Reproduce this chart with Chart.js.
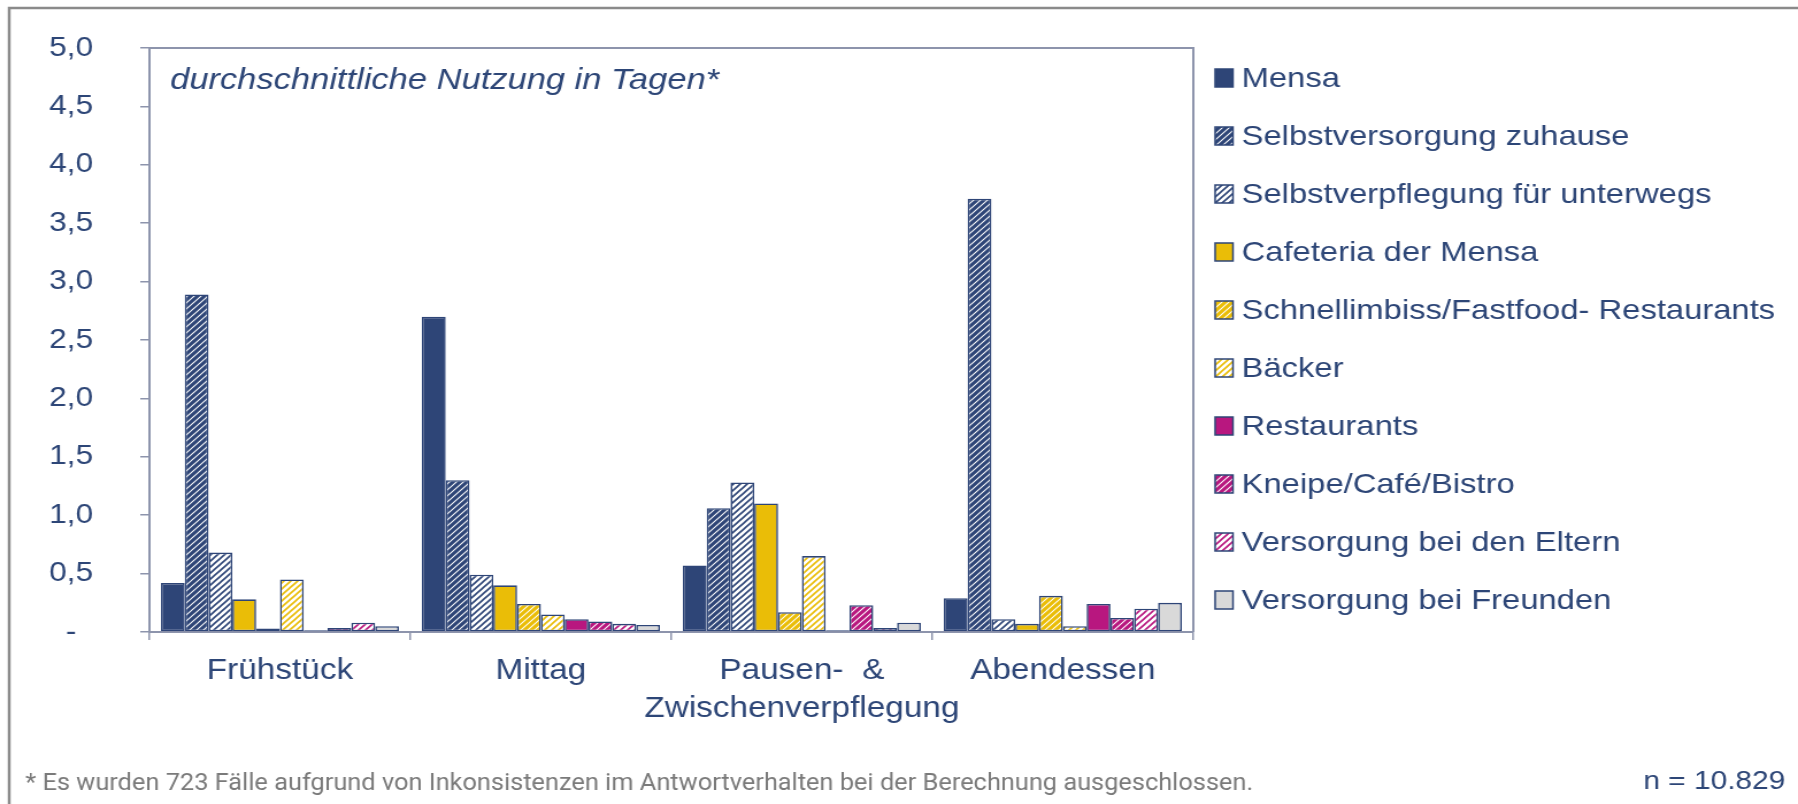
<!DOCTYPE html>
<html>
<head>
<meta charset="utf-8">
<script src="https://cdn.jsdelivr.net/npm/chart.js@4"></script>
<style>
  html, body { margin: 0; padding: 0; background: #ffffff; overflow: hidden; }
  #wrap { width: 1564px; height: 804px; transform: scaleX(1.149616); transform-origin: 0 0; }
  canvas { display: block; }
</style>
</head>
<body>
<div id="wrap"><canvas id="c" width="1564" height="804" style="width:1564px;height:804px"></canvas></div>
<script>
// ---------- DATA ----------
const categories = ['Frühstück', 'Mittag', ['Pausen-  &', 'Zwischenverpflegung'], 'Abendessen'];
const seriesNames = [
  'Mensa',
  'Selbstversorgung zuhause',
  'Selbstverpflegung für unterwegs',
  'Cafeteria der Mensa',
  'Schnellimbiss/Fastfood- Restaurants',
  'Bäcker',
  'Restaurants',
  'Kneipe/Café/Bistro',
  'Versorgung bei den Eltern',
  'Versorgung bei Freunden'
];
const mensa           = [0.42, 2.70, 0.57, 0.29];
const selbstZuhause   = [2.89, 1.30, 1.06, 3.71];
const selbstUnterwegs = [0.68, 0.49, 1.28, 0.11];
const cafeteria       = [0.28, 0.40, 1.10, 0.07];
const schnellimbiss   = [0.03, 0.24, 0.17, 0.31];
const baecker         = [0.45, 0.15, 0.65, 0.05];
const restaurants     = [0.015, 0.11, 0.015, 0.24];
const kneipe          = [0.035, 0.09, 0.23, 0.12];
const eltern          = [0.08, 0.07, 0.035, 0.20];
const freunde         = [0.05, 0.06, 0.08, 0.25];
const yTickLabels = ['-', '0,5', '1,0', '1,5', '2,0', '2,5', '3,0', '3,5', '4,0', '4,5', '5,0'];
const subtitle = 'durchschnittliche Nutzung in Tagen*';
const footnote = '* Es wurden 723 Fälle aufgrund von Inkonsistenzen im Antwortverhalten bei der Berechnung ausgeschlossen.';
const sampleNote = 'n = 10.829';

// ---------- STYLES ----------
const NAVY = '#2e4577';
const GOLD = '#eabd07';
const MAG = '#b8177f';
const GREY = '#d9d9d9';
const AXIS = '#8d94ac';
const TEXT = '#2d4677';
const FONT = "'Liberation Sans', Arial, sans-serif";

const canvas = document.getElementById('c');
const mainCtx = canvas.getContext('2d');

function hatch(color, lw, size) {
  const c = document.createElement('canvas');
  c.width = size; c.height = size;
  const g = c.getContext('2d');
  g.fillStyle = '#ffffff';
  g.fillRect(0, 0, size, size);
  g.strokeStyle = color;
  g.lineWidth = lw;
  g.beginPath();
  g.moveTo(-1, size + 1); g.lineTo(size + 1, -1);
  g.moveTo(-size / 2 - 1, size / 2 + 1); g.lineTo(size / 2 + 1, -size / 2 - 1);
  g.moveTo(size / 2 - 1, size * 1.5 + 1); g.lineTo(size * 1.5 + 1, size / 2 - 1);
  g.stroke();
  return mainCtx.createPattern(c, 'repeat');
}

const fills = [
  NAVY,
  hatch(NAVY, 3.2, 6),
  hatch(NAVY, 1.6, 6),
  GOLD,
  hatch(GOLD, 3.2, 6),
  hatch(GOLD, 1.6, 6),
  MAG,
  hatch(MAG, 3.2, 6),
  hatch(MAG, 1.6, 6),
  GREY
];
const seriesValues = [mensa, selbstZuhause, selbstUnterwegs, cafeteria, schnellimbiss, baecker, restaurants, kneipe, eltern, freunde];

const datasets = seriesNames.map((name, i) => ({
  label: name,
  data: seriesValues[i],
  backgroundColor: fills[i],
  borderColor: NAVY,
  borderWidth: 1.6,
  borderSkipped: false,
  categoryPercentage: 0.912,
  barPercentage: 1.0
}));

// ---------- PLUGINS ----------
const decorations = {
  id: 'decorations',
  beforeDraw(chart) {
    const ctx = chart.ctx;
    ctx.save();
    ctx.fillStyle = '#ffffff';
    ctx.fillRect(0, 0, chart.width, chart.height);
    // outer frame (top + left)
    ctx.strokeStyle = '#8a8a8a';
    ctx.lineWidth = 2.5;
    ctx.beginPath();
    ctx.moveTo(8, chart.height + 2);
    ctx.lineTo(8, 8);
    ctx.lineTo(chart.width + 2, 8);
    ctx.stroke();
    ctx.restore();
  },
  afterDraw(chart) {
    const ctx = chart.ctx;
    const a = chart.chartArea;
    ctx.save();
    // plot border top + right
    ctx.strokeStyle = AXIS;
    ctx.lineWidth = 2;
    ctx.beginPath();
    ctx.moveTo(a.left, a.top);
    ctx.lineTo(a.right, a.top);
    ctx.lineTo(a.right, a.bottom);
    ctx.stroke();

    // subtitle
    ctx.fillStyle = TEXT;
    ctx.font = 'italic 30px ' + FONT;
    ctx.textBaseline = 'middle';
    ctx.textAlign = 'left';
    ctx.fillText(subtitle, a.left + 18, 81);

    // legend
    ctx.font = '28.5px ' + FONT;
    chart.data.datasets.forEach((ds, i) => {
      const cy = 78 + i * 58;
      ctx.fillStyle = ds.backgroundColor;
      ctx.fillRect(1057, cy - 9, 15.5, 18);
      ctx.strokeStyle = NAVY;
      ctx.lineWidth = 1.5;
      ctx.strokeRect(1057, cy - 9, 15.5, 18);
      ctx.fillStyle = TEXT;
      ctx.fillText(ds.label, 1080, cy + 1);
    });

    // footnote
    ctx.fillStyle = '#7a7a7a';
    ctx.font = "24px Roboto, 'Liberation Sans', sans-serif";
    const w = ctx.measureText(footnote).width;
    ctx.save();
    ctx.translate(22, 784);
    ctx.scale(1068 / w, 1);
    ctx.textBaseline = 'middle';
    ctx.fillText(footnote, 0, 0);
    ctx.restore();

    // n
    ctx.fillStyle = TEXT;
    ctx.font = '26px ' + FONT;
    ctx.textAlign = 'right';
    ctx.textBaseline = 'middle';
    ctx.fillText(sampleNote, 1553, 782);
    ctx.restore();
  }
};

new Chart(canvas, {
  type: 'bar',
  data: { labels: categories, datasets },
  options: {
    responsive: false,
    devicePixelRatio: 1,
    animation: false,
    layout: { padding: { top: 48, right: 526, bottom: 0, left: 0 } },
    plugins: { legend: { display: false }, tooltip: { enabled: false } },
    scales: {
      x: {
        grid: { offset: true, drawOnChartArea: false, drawTicks: true, tickLength: 8, color: AXIS, lineWidth: 1.5 },
        border: { display: true, color: AXIS, width: 2 },
        ticks: { color: TEXT, font: { family: FONT, size: 29, lineHeight: 1.31 }, padding: 12, maxRotation: 0, autoSkip: false },
        afterFit(s) { s.height = 172; }
      },
      y: {
        min: 0, max: 5,
        grid: { drawOnChartArea: false, drawTicks: true, tickLength: 8, color: AXIS, lineWidth: 1.5 },
        border: { display: true, color: AXIS, width: 2 },
        ticks: {
          stepSize: 0.5,
          color: TEXT,
          font: { family: FONT, size: 27.5 },
          padding: 41,
          crossAlign: 'center',
          callback: (v, i) => yTickLabels[i]
        },
        afterFit(s) { s.width = 130; s.paddingTop = 10; s.paddingBottom = 10; }
      }
    }
  },
  plugins: [decorations]
});
</script>
</body>
</html>
